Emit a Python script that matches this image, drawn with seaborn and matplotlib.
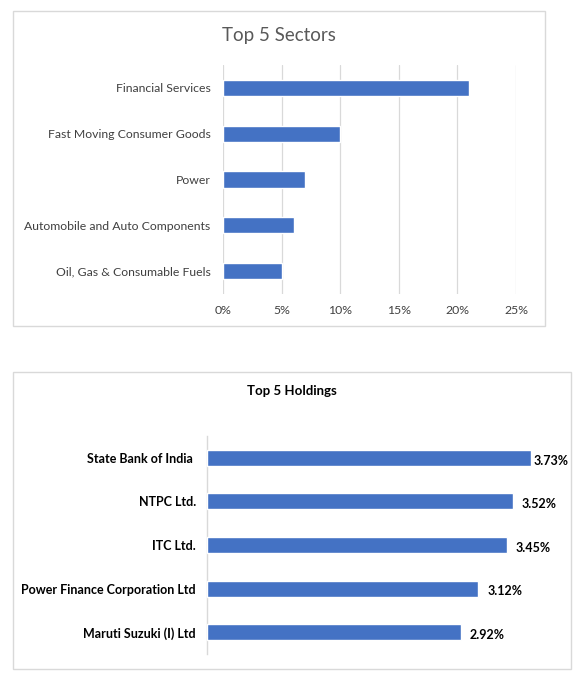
import matplotlib
matplotlib.use("Agg")
import matplotlib.pyplot as plt
from matplotlib.patches import Rectangle
from matplotlib.ticker import FuncFormatter
import seaborn as sns
import pandas as pd

sectors = ["Financial Services", "Fast Moving Consumer Goods", "Power",
           "Automobile and Auto Components", "Oil, Gas & Consumable Fuels"]
sector_values = [0.21, 0.10, 0.07, 0.061, 0.05]
sector_ticks = [0, 0.05, 0.10, 0.15, 0.20, 0.25]

holdings = ["State Bank of India ", "NTPC Ltd.", "ITC Ltd.",
            "Power Finance Corporation Ltd", "Maruti Suzuki (I) Ltd"]
holding_values = [3.73, 3.52, 3.45, 3.12, 2.92]

sns.set_style("white")
plt.rcParams['font.family'] = ['Lato', 'DejaVu Sans']

W, H = 585, 686
fig = plt.figure(figsize=(W / 100, H / 100), dpi=100)
BLUE = "#4472C4"
GRAY_TXT = "#404040"
BORDER = "#D9D9D9"

def fx(px):
    return px / W

def fy(py):
    return 1 - py / H

def box(x0, y0, x1, y1):
    fig.patches.append(Rectangle((fx(x0), fy(y1)), fx(x1) - fx(x0), fy(y0) - fy(y1),
                                 transform=fig.transFigure, fill=False,
                                 edgecolor=BORDER, linewidth=1.0, zorder=0))

# ---------- Top chart ----------
box(13, 11, 545, 326)
ax1 = fig.add_axes([fx(223), fy(294), fx(516) - fx(223), fy(65) - fy(294)])
df1 = pd.DataFrame({"sector": sectors, "value": sector_values})
sns.barplot(data=df1, x="value", y="sector", color=BLUE, width=0.35,
            saturation=1, ax=ax1, zorder=3)
ax1.set_xlim(0, 0.25)
ax1.set_ylim(4.5, -0.5)
ax1.set_xticks(sector_ticks)
ax1.xaxis.set_major_formatter(FuncFormatter(lambda v, p: f"{v*100:.0f}%"))
ax1.grid(axis="x", color=BORDER, linewidth=0.9, zorder=0)
ax1.grid(axis="y", visible=False)
for s in ax1.spines.values():
    s.set_visible(False)
ax1.set_xlabel("")
ax1.set_ylabel("")
ax1.tick_params(axis="y", length=0, pad=9, labelsize=8.8, labelcolor=GRAY_TXT)
ax1.tick_params(axis="x", length=0, pad=8, labelsize=8.8, labelcolor=GRAY_TXT)
fig.text(fx(279), fy(35), "Top 5 Sectors", ha="center", va="center",
         fontsize=13.5, color="#595959")

# ---------- Bottom chart ----------
box(13, 372, 571, 669)
ax2 = fig.add_axes([fx(207), fy(654), fx(554.6) - fx(207), fy(436) - fy(654)])
df2 = pd.DataFrame({"holding": holdings, "value": holding_values})
sns.barplot(data=df2, x="value", y="holding", color=BLUE, width=0.37,
            saturation=1, ax=ax2, zorder=3)
ax2.set_xlim(0, 4.0)
ax2.set_ylim(4.5, -0.5)
ax2.set_xticks([])
for name, s in ax2.spines.items():
    s.set_visible(name == "left")
ax2.spines["left"].set_color(BORDER)
ax2.spines["left"].set_linewidth(1.0)
ax2.set_xlabel("")
ax2.set_ylabel("")
ax2.tick_params(axis="y", length=0, pad=8, labelsize=9, labelcolor="black")
for lbl in ax2.get_yticklabels():
    lbl.set_fontweight("bold")
pads = [1.5, 6.5, 6.5, 6.5, 6.5]
for patch, val, pd_ in zip(ax2.patches, holding_values, pads):
    ax2.annotate(f"{val:.2f}%", (patch.get_width(), patch.get_y() + patch.get_height() / 2),
                 xytext=(pd_, -2), textcoords="offset points", ha="left", va="center",
                 fontsize=9, fontweight="bold", color="black", annotation_clip=False)
fig.text(fx(292), fy(391), "Top 5 Holdings", ha="center", va="center",
         fontsize=9.5, fontweight="bold", color="black")

fig.savefig("out.png", dpi=100, facecolor="white")
